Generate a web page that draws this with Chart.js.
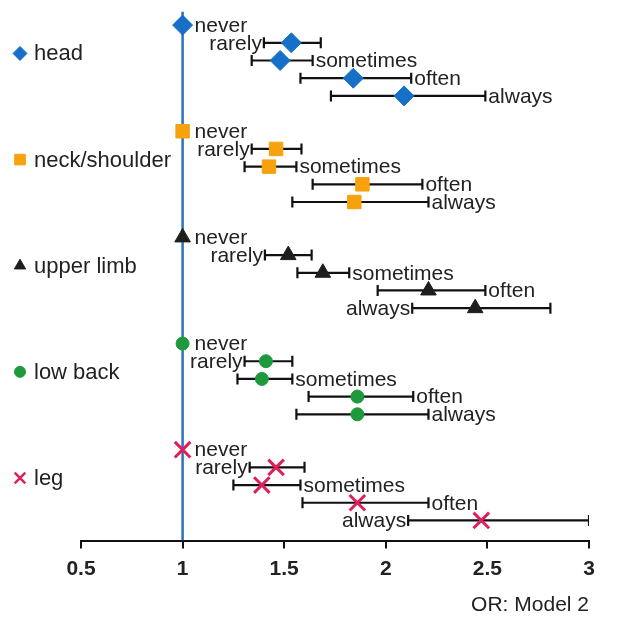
<!DOCTYPE html>
<html>
<head>
<meta charset="utf-8">
<script src="https://cdn.jsdelivr.net/npm/chart.js@4.4.1/dist/chart.umd.min.js"></script>
<style>
  html, body { margin: 0; padding: 0; background: #fff; }
</style>
</head>
<body>
<canvas id="forest" width="617" height="618"></canvas>
<script>
// categories, levels and ticks
const categories = ["head", "neck/shoulder", "upper limb", "low back", "leg"];
const levels = ["never", "rarely", "sometimes", "often", "always"];
const xTicks = [0.5, 1, 1.5, 2, 2.5, 3];

// odds ratios and 95% CI
const orHead = [1, 1.535, 1.48, 1.84, 2.09];
const loHead = [null, 1.40, 1.34, 1.58, 1.73];
const hiHead = [null, 1.68, 1.64, 2.125, 2.49];

const orNeck = [1, 1.46, 1.425, 1.885, 1.845];
const loNeck = [null, 1.34, 1.305, 1.64, 1.54];
const hiNeck = [null, 1.585, 1.56, 2.18, 2.21];

const orUpper = [1, 1.52, 1.69, 2.21, 2.44];
const loUpper = [null, 1.405, 1.565, 1.96, 2.13];
const hiUpper = [null, 1.635, 1.82, 2.49, 2.81];

const orBack = [1, 1.41, 1.39, 1.86, 1.86];
const loBack = [null, 1.305, 1.27, 1.62, 1.56];
const hiBack = [null, 1.54, 1.54, 2.135, 2.21];

const orLeg = [1, 1.46, 1.39, 1.86, 2.47];
const loLeg = [null, 1.33, 1.25, 1.59, 2.11];
const hiLeg = [null, 1.60, 1.58, 2.21, 3.0];

const groups = [
  { or: orHead, lo: loHead, hi: hiHead, style: "rectRot", color: "#1670c8", r: 10, lr: 7, bw: 1 },
  { or: orNeck, lo: loNeck, hi: hiNeck, style: "rect", color: "#f6a20e", r: 9.5, lr: 7.5, bw: 1 },
  { or: orUpper, lo: loUpper, hi: hiUpper, style: "triangle", color: "#1e1e1e", r: 9, lr: 6.5, bw: 1 },
  { or: orBack, lo: loBack, hi: hiBack, style: "circle", color: "#1e9a3c", r: 6.5, lr: 5.5, bw: 1 },
  { or: orLeg, lo: loLeg, hi: hiLeg, style: "crossRot", color: "#de1f5c", r: 11, lr: 7.5, bw: 3 }
];

// where each level's text sits: next to point, left of CI, right of CI
const labelSide = [
  ["pt", "L", "R", "R", "R"],
  ["pt", "L", "R", "R", "R"],
  ["pt", "L", "R", "R", "L"],
  ["pt", "L", "R", "R", "R"],
  ["pt", "L", "R", "R", "L"]
];

const rowOf = (g, l) => g * 6 + l;

const datasets = [];
// reference line at OR = 1
datasets.push({
  data: [{ x: 1, y: -0.75 }, { x: 1, y: 29.14 }],
  showLine: true, borderColor: "#2b73b8", borderWidth: 2.5,
  pointRadius: 0, order: 3
});
groups.forEach((grp, g) => {
  grp.lo.forEach((lo, l) => {
    if (lo === null) return;
    datasets.push({
      data: [{ x: lo, y: rowOf(g, l) }, { x: grp.hi[l], y: rowOf(g, l) }],
      showLine: true, borderColor: "#111", borderWidth: 2.2,
      pointStyle: "line", pointRotation: 90, pointRadius: 5.5,
      pointBorderWidth: 2.2, pointBorderColor: "#111", order: 2
    });
  });
  datasets.push({
    label: categories[g],
    data: grp.or.map((v, l) => ({ x: v, y: rowOf(g, l) })),
    pointStyle: grp.style, pointRadius: grp.r,
    backgroundColor: grp.color, borderColor: grp.color,
    pointBorderWidth: grp.bw, order: 0
  });
});

const textPlugin = {
  id: "forestText",
  afterDraw(chart) {
    const { ctx, scales: { x, y } } = chart;
    ctx.save();
    ctx.fillStyle = "#222";
    ctx.textBaseline = "middle";
    groups.forEach((grp, g) => {
      ctx.font = '21px "Liberation Sans", Arial, sans-serif';
      levels.forEach((lev, l) => {
        const py = y.getPixelForValue(rowOf(g, l)) + 1;
        const side = labelSide[g][l];
        if (side === "pt") {
          ctx.textAlign = "left";
          ctx.fillText(lev, x.getPixelForValue(grp.or[l]) + 12, py);
        } else if (side === "L") {
          ctx.textAlign = "right";
          ctx.fillText(lev, x.getPixelForValue(grp.lo[l]) - 2, py);
        } else {
          ctx.textAlign = "left";
          ctx.fillText(lev, x.getPixelForValue(grp.hi[l]) + 3, py);
        }
      });
      // legend entry on the left
      const ly = y.getPixelForValue(rowOf(g, 1.6));
      ctx.fillStyle = grp.color;
      ctx.strokeStyle = grp.color;
      ctx.lineWidth = grp.style === "crossRot" ? 2.5 : 1;
      Chart.helpers.drawPoint(ctx, {
        pointStyle: grp.style, radius: grp.lr, rotation: 0,
        borderWidth: ctx.lineWidth
      }, 20, ly);
      ctx.fillStyle = "#222";
      ctx.textAlign = "left";
      ctx.font = '22px "Liberation Sans", Arial, sans-serif';
      ctx.fillText(categories[g], 34, ly + 1);
    });
    ctx.restore();
  }
};

new Chart(document.getElementById("forest"), {
  type: "scatter",
  data: { datasets },
  options: {
    responsive: false,
    animation: false,
    events: [],
    layout: { autoPadding: false, padding: { left: 81, right: 28, top: 0, bottom: 0 } },
    plugins: { legend: { display: false }, tooltip: { enabled: false } },
    scales: {
      x: {
        type: "linear", min: 0.5, max: 3, position: "bottom",
        afterBuildTicks: s => { s.ticks = xTicks.map(v => ({ value: v })); },
        ticks: {
          color: "#222", padding: 8.5, autoSkip: false, maxRotation: 0,
          callback: v => String(v),
          font: { family: '"Liberation Sans", Arial, sans-serif', size: 21, weight: "bold" }
        },
        grid: { display: true, drawOnChartArea: false, drawTicks: true, tickLength: 8, color: "#111", lineWidth: 2 },
        border: { display: true, color: "#111", width: 2 },
        title: {
          display: true, text: "OR: Model 2", align: "end", color: "#222",
          font: { family: '"Liberation Sans", Arial, sans-serif', size: 21 },
          padding: { top: 2, bottom: 0 }
        }
      },
      y: { type: "linear", display: false, reverse: true, min: -1.42, max: 29.14 }
    }
  },
  plugins: [textPlugin]
});
</script>
</body>
</html>
